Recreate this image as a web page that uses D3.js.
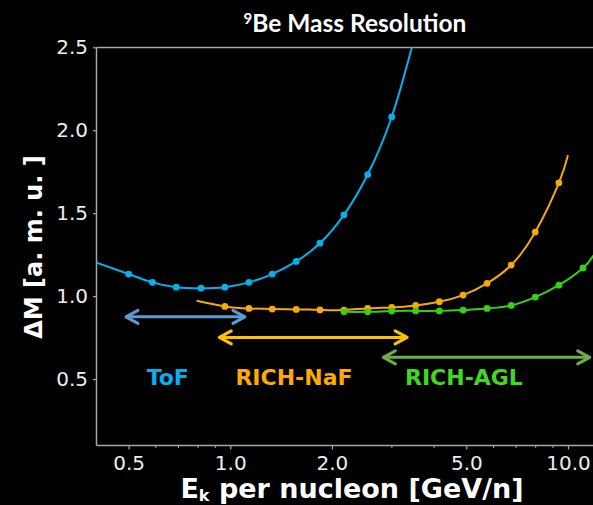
<!DOCTYPE html>
<html><head><meta charset="utf-8">
<script src="https://cdn.jsdelivr.net/npm/d3@7"></script>
<style>html,body{margin:0;padding:0;background:#000;}svg{display:block;}</style>
</head><body>
<script>
// ---- data ----
const tofX   = [0.50, 0.588, 0.692, 0.819, 0.964, 1.136, 1.331, 1.568, 1.843, 2.171, 2.552, 3.006];
const tofY   = [1.133, 1.083, 1.054, 1.048, 1.054, 1.083, 1.133, 1.209, 1.319, 1.490, 1.733, 2.080];
const tofFitX = [0.40, 3.45];          // line ends
const tofFitY = [1.203, 2.50];

const nafX = [0.964, 1.136, 1.331, 1.568, 1.843, 2.171, 2.552, 3.006, 3.54, 4.16, 4.89, 5.76, 6.79, 8.0, 9.4];
const nafY = [0.938, 0.926, 0.922, 0.920, 0.917, 0.916, 0.926, 0.932, 0.944, 0.966, 1.006, 1.077, 1.187, 1.386, 1.683];
const nafFitX = [0.795, 10.0];
const nafFitY = [0.972, 1.849];

const aglX = [2.171, 2.552, 3.006, 3.54, 4.16, 4.89, 5.76, 6.79, 8.0, 9.4, 11.08];
const aglY = [0.905, 0.905, 0.910, 0.911, 0.911, 0.916, 0.926, 0.944, 0.994, 1.066, 1.170];
const aglFitX = [2.171, 11.9];
const aglFitY = [0.905, 1.245];

const xTickMajor = [0.5, 1, 2, 5, 10];
const xTickLabels = ["0.5", "1.0", "2.0", "5.0", "10.0"];
const xTickMinor = [0.6, 0.7, 0.8, 0.9, 3, 4, 6, 7, 8, 9];
const yTicks = [0.5, 1.0, 1.5, 2.0, 2.5];
const yTickLabels = ["0.5", "1.0", "1.5", "2.0", "2.5"];

const detectors = ["ToF", "RICH-NaF", "RICH-AGL"];
const rangeFrom = [0.491, 0.928, 2.84];
const rangeTo   = [1.105, 3.34, 11.6];
const rangeY    = [0.875, 0.751, 0.631];
const labelX    = [0.653, 1.544, 4.92];
const labelY    = [0.509, 0.509, 0.509];

// ---- styles ----
const curveCol = ["#00b2ee", "#f7a90a", "#38d014"];
const arrowCol = ["#5b9bd5", "#ffc000", "#70ad47"];
const textCol  = ["#00b0f0", "#ffaa00", "#40d820"];

const W = 593, H = 505;
const x = d3.scaleLog().domain([0.4, 12]).range([95.9, 594.7]);
const y = d3.scaleLinear().domain([0.1, 2.5]).range([445.4, 47.3]);

const svg = d3.select("body").append("svg").attr("width", W).attr("height", H)
  .style("background", "#000");
svg.append("rect").attr("width", W).attr("height", H).attr("fill", "#000");

svg.append("defs").append("clipPath").attr("id", "clip")
  .append("rect").attr("x", 96.5).attr("y", 47.5).attr("width", 600).attr("height", 398);

const axisCol = "#a8a8a8";
// x axis
const xAxis = d3.axisBottom(x).tickValues(xTickMajor)
  .tickFormat((d, i) => xTickLabels[i]).tickSize(4).tickPadding(6);
const gx = svg.append("g").attr("transform", "translate(0,445.5)").call(xAxis);
gx.select(".domain").remove();
gx.selectAll("line").attr("stroke", axisCol).attr("stroke-width", 1.2);
gx.selectAll("text").attr("fill", "#eee").style("font-family", "DejaVu Sans")
  .style("font-size", "20px");
const gxm = svg.append("g").attr("transform", "translate(0,445.5)")
  .call(d3.axisBottom(x).tickValues(xTickMinor).tickFormat("").tickSize(2.5));
gxm.select(".domain").remove();
gxm.selectAll("line").attr("stroke", axisCol).attr("stroke-width", 1);

// y axis
const yAxis = d3.axisLeft(y).tickValues(yTicks)
  .tickFormat((d, i) => yTickLabels[i]).tickSize(3.5).tickPadding(5);
const gy = svg.append("g").attr("transform", "translate(96.5,0)").call(yAxis);
gy.select(".domain").remove();
gy.selectAll("line").attr("stroke", axisCol).attr("stroke-width", 1.2);
gy.selectAll("text").attr("fill", "#eee").style("font-family", "DejaVu Sans")
  .style("font-size", "20px");

// spines
svg.append("line").attr("x1", 96.5).attr("x2", 96.5).attr("y1", 47.5).attr("y2", 445.5)
  .attr("stroke", axisCol).attr("stroke-width", 1.5);
svg.append("line").attr("x1", 96.5).attr("x2", W).attr("y1", 445.5).attr("y2", 445.5)
  .attr("stroke", axisCol).attr("stroke-width", 1.5);
svg.append("line").attr("x1", 96.5).attr("x2", W).attr("y1", 47.5).attr("y2", 47.5)
  .attr("stroke", axisCol).attr("stroke-width", 1.5);

// curves
const series = [
  {px: tofX, py: tofY, fx: tofFitX, fy: tofFitY},
  {px: nafX, py: nafY, fx: nafFitX, fy: nafFitY},
  {px: aglX, py: aglY, fx: aglFitX, fy: aglFitY}
];
const line = d3.line().x(d => x(d[0])).y(d => y(d[1])).curve(d3.curveNatural);
const plot = svg.append("g").attr("clip-path", "url(#clip)");
series.forEach((s, k) => {
  let pts = s.px.map((v, i) => [v, s.py[i]]);
  if (s.fx[0] < pts[0][0]) pts.unshift([s.fx[0], s.fy[0]]);
  if (s.fx[1] > pts[pts.length - 1][0]) pts.push([s.fx[1], s.fy[1]]);
  plot.append("path").attr("d", line(pts)).attr("fill", "none")
    .attr("stroke", curveCol[k]).attr("stroke-width", 2);
});
series.forEach((s, k) => {
  plot.selectAll(null).data(s.px.map((v, i) => [v, s.py[i]])).enter().append("circle")
    .attr("cx", d => x(d[0])).attr("cy", d => y(d[1])).attr("r", 3.4)
    .attr("fill", curveCol[k]);
});

// range arrows
detectors.forEach((name, k) => {
  const x1 = x(rangeFrom[k]), x2 = x(rangeTo[k]), yy = y(rangeY[k]);
  const g = svg.append("g").attr("stroke", arrowCol[k]).attr("stroke-width", 3)
    .attr("fill", "none").attr("stroke-linecap", "round").attr("stroke-linejoin", "round");
  g.append("line").attr("x1", x1 + 1).attr("x2", x2 - 1).attr("y1", yy).attr("y2", yy);
  g.append("polyline").attr("points", `${x1 + 12},${yy - 6.5} ${x1},${yy} ${x1 + 12},${yy + 6.5}`);
  g.append("polyline").attr("points", `${x2 - 12},${yy - 6.5} ${x2},${yy} ${x2 - 12},${yy + 6.5}`);
  svg.append("text").attr("x", x(labelX[k])).attr("y", y(labelY[k])).attr("dy", "0.36em")
    .attr("text-anchor", "middle").attr("fill", textCol[k])
    .style("font-family", "DejaVu Sans").style("font-weight", "bold").style("font-size", "22px")
    .text(name);
});

// title
const t = svg.append("text").attr("x", 355).attr("y", 31.5).attr("text-anchor", "middle")
  .attr("fill", "#fff").style("font-family", "Lato").style("font-weight", "bold")
  .style("font-size", "24.5px");
t.append("tspan").attr("dy", "-8").style("font-size", "15px").text("9");
t.append("tspan").attr("dy", "8").text("Be Mass Resolution");

// axis labels
const xl = svg.append("text").attr("x", 352).attr("y", 497.5).attr("text-anchor", "middle")
  .attr("fill", "#fff").style("font-family", "DejaVu Sans").style("font-weight", "bold")
  .style("font-size", "27px");
xl.append("tspan").text("E");
xl.append("tspan").attr("dy", "3").style("font-size", "16px").text("k");
xl.append("tspan").attr("dy", "-3").text(" per nucleon [GeV/n]");

svg.append("text").attr("transform", "translate(42,247) rotate(-90)")
  .attr("text-anchor", "middle").attr("fill", "#fff")
  .style("font-family", "DejaVu Sans").style("font-weight", "bold").style("font-size", "24px")
  .text("ΔM [a. m. u. ]");
</script>
</body></html>
